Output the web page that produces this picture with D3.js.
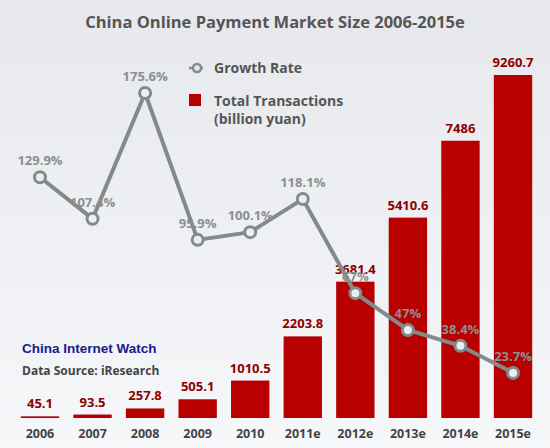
<!DOCTYPE html>
<html><head><meta charset="utf-8">
<script src="https://cdn.jsdelivr.net/npm/d3@7"></script>
<style>body{margin:0}svg{display:block}</style></head>
<body><svg id="c" width="550" height="448"></svg>
<script>
const categories=["2006","2007","2008","2009","2010","2011e","2012e","2013e","2014e","2015e"];
const transactions=[45.1,93.5,257.8,505.1,1010.5,2203.8,3681.4,5410.6,7486,9260.7];
const transLabels=["45.1","93.5","257.8","505.1","1010.5","2203.8","3681.4","5410.6","7486","9260.7"];
const growth=[129.9,107.4,175.6,95.9,100.1,118.1,67,47,38.4,23.7];
const growthLabels=["129.9%","107.4%","175.6%","95.9%","100.1%","118.1%","67%","47%","38.4%","23.7%"];

const svg=d3.select("#c");
const defs=svg.append("defs");
const g=defs.append("linearGradient").attr("id","bg").attr("x1",0).attr("y1",0).attr("x2",0).attr("y2",1);
g.append("stop").attr("offset","0%").attr("stop-color","#e6e8ec");
g.append("stop").attr("offset","100%").attr("stop-color","#f6f7f9");
svg.append("rect").attr("width",550).attr("height",448).attr("fill","url(#bg)");
const font="'Open Sans', 'DejaVu Sans', sans-serif";

const x=d3.scaleBand().domain(categories).range([6.6,546.4]).padding(0.27);
const y=d3.scaleLinear().domain([0,9260.7]).range([418,75]);
const yg=d3.scaleLinear().domain([0,175.6]).range([416.6,93]);

svg.append("g").selectAll("rect").data(transactions).join("rect")
 .attr("x",(d,i)=>x(categories[i])).attr("width",x.bandwidth())
 .attr("y",d=>y(d)).attr("height",d=>418-y(d)).attr("fill","#b80000");

svg.append("g").selectAll("text").data(transactions).join("text")
 .attr("x",(d,i)=>x(categories[i])+x.bandwidth()/2).attr("y",d=>y(d)-8)
 .attr("text-anchor","middle").attr("font-family",font).attr("font-weight","bold")
 .attr("font-size",13).attr("fill","#8e0000").text((d,i)=>transLabels[i]);

const cx=i=>x(categories[i])+x.bandwidth()/2;
svg.append("path").datum(growth).attr("fill","none").attr("stroke","#838a8a").attr("stroke-width",4)
 .attr("d",d3.line().x((d,i)=>cx(i)).y(d=>yg(d)));
svg.append("g").selectAll("circle").data(growth).join("circle")
 .attr("cx",(d,i)=>cx(i)).attr("cy",d=>yg(d)).attr("r",5.5)
 .attr("fill","#eceef0").attr("stroke","#838a8a").attr("stroke-width",3);
svg.append("g").selectAll("text").data(growth).join("text")
 .attr("x",(d,i)=>cx(i)).attr("y",d=>yg(d)-12)
 .attr("text-anchor","middle").attr("font-family",font).attr("font-weight","bold")
 .attr("font-size",13).attr("fill","#8a9090").text((d,i)=>growthLabels[i]);

svg.append("g").selectAll("text").data(categories).join("text")
 .attr("x",d=>x(d)+x.bandwidth()/2).attr("y",438).attr("text-anchor","middle")
 .attr("font-family",font).attr("font-weight","bold").attr("font-size",12.5).attr("fill","#444")
 .text(d=>d);

svg.append("text").attr("x",275).attr("y",28).attr("text-anchor","middle")
 .attr("font-family",font).attr("font-weight","bold").attr("font-size",16.5).attr("fill","#555")
 .text("China Online Payment Market Size 2006-2015e");

// legend
svg.append("circle").attr("cx",197).attr("cy",68).attr("r",4).attr("fill","none").attr("stroke","#838a8a").attr("stroke-width",2.5);
svg.append("line").attr("x1",189).attr("x2",205).attr("y1",68).attr("y2",68).attr("stroke","#838a8a").attr("stroke-width",2.5).attr("stroke-dasharray","3,8");
svg.append("text").attr("x",214).attr("y",73).attr("font-family",font).attr("font-weight","bold").attr("font-size",14).attr("fill","#555").text("Growth Rate");
svg.append("rect").attr("x",189).attr("y",94).attr("width",12).attr("height",12).attr("fill","#b80000");
svg.append("text").attr("x",214).attr("y",106).attr("font-family",font).attr("font-weight","bold").attr("font-size",14).attr("fill","#555").text("Total Transactions");
svg.append("text").attr("x",214).attr("y",124).attr("font-family",font).attr("font-weight","bold").attr("font-size",14).attr("fill","#555").text("(billion yuan)");

svg.append("text").attr("x",22).attr("y",353).attr("font-family","'Liberation Sans Narrow', 'Liberation Sans', sans-serif").attr("font-weight","bold").attr("font-size",13.5).attr("fill","#1a1a8c").text("China Internet Watch");
svg.append("text").attr("x",22).attr("y",375).attr("font-family",font).attr("font-weight","bold").attr("font-size",12).attr("fill","#444").text("Data Source: iResearch");
</script></body></html>
